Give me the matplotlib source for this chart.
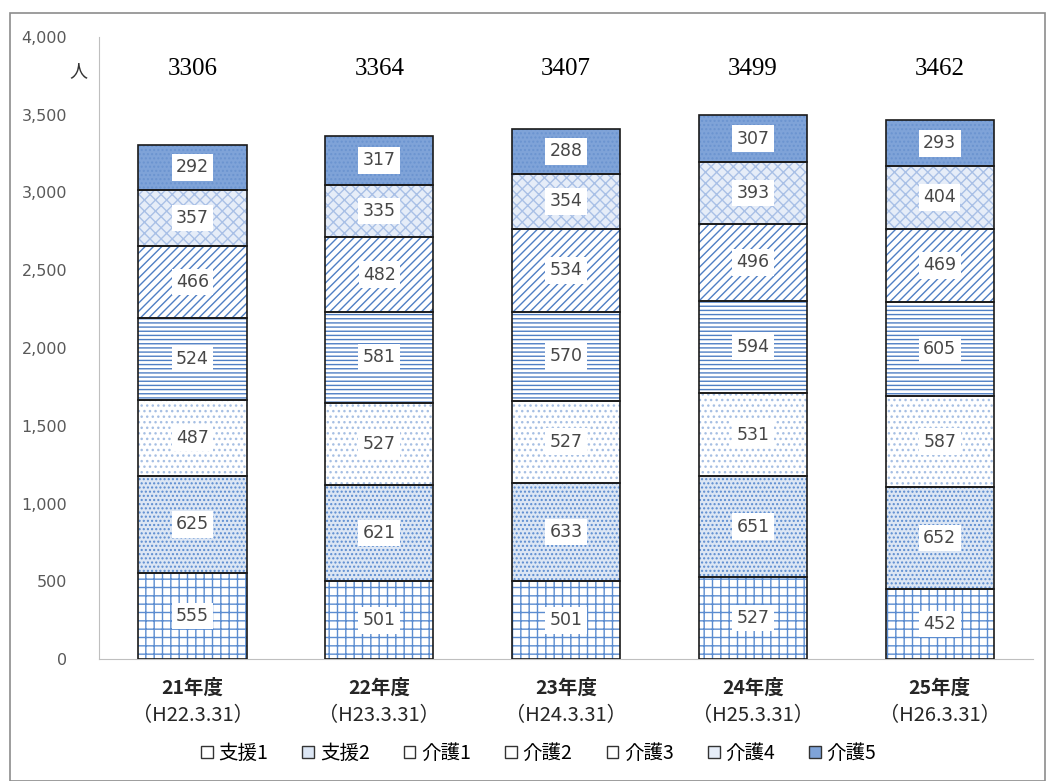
import matplotlib
matplotlib.use("Agg")
import matplotlib.pyplot as plt
import matplotlib.patches as mpatches
import matplotlib.transforms as mtrans
import numpy as np

plt.rcParams['font.family'] = ['Noto Sans CJK JP', 'DejaVu Sans']
plt.rcParams['hatch.linewidth'] = 1.0

years = ["21年度", "22年度", "23年度", "24年度", "25年度"]
dates = ["（H22.3.31）", "（H23.3.31）", "（H24.3.31）", "（H25.3.31）", "（H26.3.31）"]
series_names = ["支援1", "支援2", "介護1", "介護2", "介護3", "介護4", "介護5"]
shien1 = [555, 501, 501, 527, 452]
shien2 = [625, 621, 633, 651, 652]
kaigo1 = [487, 527, 527, 531, 587]
kaigo2 = [524, 581, 570, 594, 605]
kaigo3 = [466, 482, 534, 496, 469]
kaigo4 = [357, 335, 354, 393, 404]
kaigo5 = [292, 317, 288, 307, 293]
totals = [3306, 3364, 3407, 3499, 3462]
yticks = [0, 500, 1000, 1500, 2000, 2500, 3000, 3500, 4000]

series = [shien1, shien2, kaigo1, kaigo2, kaigo3, kaigo4, kaigo5]
styles = [
    dict(face="#ffffff", hatch="++", hcol="#5b8cd0"),
    dict(face="#dce6f4", hatch="....", hcol="#5b8cd0"),
    dict(face="#ffffff", hatch="...", hcol="#a6bfe3"),
    dict(face="#ffffff", hatch="----", hcol="#4f7fc4"),
    dict(face="#ffffff", hatch="////", hcol="#4f7fc4"),
    dict(face="#e6edf8", hatch="xxx", hcol="#a9c0e6"),
    dict(face="#7fa3d8", hatch="....", hcol="#6b94d0"),
]

fig = plt.figure(figsize=(10.46, 7.81), dpi=100)
ax = fig.add_axes([0.0947, 0.156, 0.893, 0.797])

x = np.arange(len(years))
w = 0.58
bottom = np.zeros(len(years))
for vals, st in zip(series, styles):
    vals = np.array(vals)
    ax.bar(x, vals, w, bottom=bottom, color=st["face"], edgecolor=st["hcol"],
           hatch=st["hatch"], linewidth=0, zorder=2)
    ax.bar(x, vals, w, bottom=bottom, fill=False, edgecolor="#1a1a1a",
           linewidth=1.2, zorder=3)
    for xi, b, v in zip(x, bottom, vals):
        ax.text(xi, b + v / 2, str(v), ha="center", va="center", fontsize=12.5,
                color="#474747", family=["DejaVu Sans"], zorder=4,
                bbox=dict(boxstyle="square,pad=0.25", fc="white", ec="none"))
    bottom = bottom + vals

for xi, t in zip(x, totals):
    ax.text(xi, 3790, str(t), ha="center", va="center", fontsize=18,
            family=["Liberation Serif"], color="black")

ax.set_xlim(-0.5, 4.5)
ax.set_ylim(0, 4000)
ax.set_yticks(yticks)
ax.set_yticklabels([f"{v:,}" for v in yticks], color="#595959", fontsize=11.5,
                   family="DejaVu Sans")
ax.set_xticks(x)
ax.set_xticklabels([""] * len(x))
ax.tick_params(axis="both", length=0)
ax.tick_params(axis="y", pad=23)
for s in ["top", "right"]:
    ax.spines[s].set_visible(False)
ax.spines["left"].set_color("#bfbfbf")
ax.spines["bottom"].set_color("#bfbfbf")
ax.text(-0.56, 3780, "人", ha="right", va="center", fontsize=13, color="#333333")

trans = mtrans.blended_transform_factory(ax.transData, fig.transFigure)
for xi, yl, dl in zip(x, years, dates):
    ax.text(xi, 1 - 688 / 781, yl, transform=trans, ha="center", va="center",
            fontsize=14, fontweight="bold", color="#262626")
    ax.text(xi, 1 - 716 / 781, dl, transform=trans, ha="center", va="center",
            fontsize=14.5, color="#262626")

handles = [mpatches.Patch(facecolor=st["face"], edgecolor="#333333",
                          linewidth=1.0) for st in styles]
fig.legend(handles, series_names, loc="center", bbox_to_anchor=(0.515, 0.035),
           ncol=7, frameon=False, fontsize=14, handlelength=0.6,
           handleheight=0.6, handletextpad=0.3, columnspacing=1.75)

border = mpatches.Rectangle((10 / 1046, 0), 1 - 10 / 1046 - 0.001, 1 - 13 / 781,
                            transform=fig.transFigure, fill=False,
                            edgecolor="#8c8c8c", linewidth=1.2)
fig.patches.append(border)

fig.savefig("out.png", dpi=100)
